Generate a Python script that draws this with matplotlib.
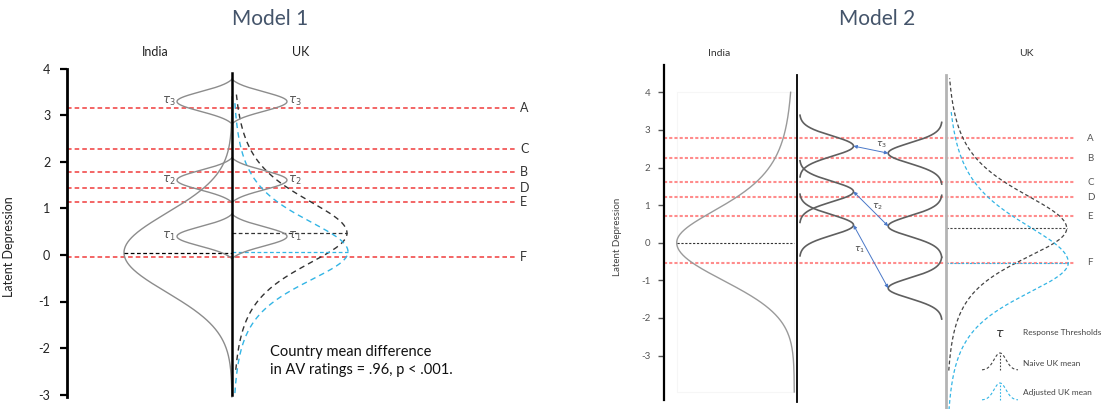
import numpy as np
import matplotlib
matplotlib.use('Agg')
import matplotlib.pyplot as plt

plt.rcParams['font.family'] = ['Lato', 'DejaVu Sans']
plt.rcParams['mathtext.fontset'] = 'dejavusans'

# ---------------- data ----------------
yticks = [-3, -2, -1, 0, 1, 2, 3, 4]
countries = ['India', 'UK']
titles = ['Model 1', 'Model 2']

# Model 1
m1_line_labels = ['A', 'C', 'B', 'D', 'E', 'F']
m1_line_levels = [3.17, 2.27, 1.78, 1.45, 1.13, -0.04]
m1_tau = [0.40, 1.61, 3.30]
m1_tau_labels = [r'$\tau_1$', r'$\tau_2$', r'$\tau_3$']
# (mean, scale_up, scale_low, df_up, df_low, v_min, v_max)
m1_india = [0.05, 0.85, 0.85, np.inf, np.inf, -3.05, 3.40]
m1_uk_naive = [0.47, 0.85, 0.80, 3, 3, -2.47, 3.48]
m1_uk_adj = [0.07, 0.80, 0.76, 3, 3, -2.97, 3.33]
m1_note = ['Country mean difference', 'in AV ratings = .96, p < .001.']

# Model 2
m2_line_labels = ['A', 'B', 'C', 'D', 'E', 'F']
m2_line_levels = [2.78, 2.25, 1.61, 1.21, 0.70, -0.53]
m2_tau_india = [0.47, 1.36, 2.57]
m2_tau_uk = [-1.21, 0.44, 2.38]
m2_tau_labels = [r'$\tau_1$', r'$\tau_2$', r'$\tau_3$']
m2_india = [0.0, 1.07, 1.00, 3, np.inf, -3.97, 4.00]
m2_uk_naive = [0.38, 1.08, 0.95, 3, 3, -3.40, 4.37]
m2_uk_adj = [-0.53, 1.20, 1.00, 3, 3, -4.60, 3.48]
legend_labels = ['Response Thresholds', 'Naive UK mean', 'Adjusted UK mean']

# ---------------- styles ----------------
RED1 = '#f03c3c'
RED2 = '#ff8c8c'
BLUE = '#33b5e5'
TITLE_C = '#44546a'
ARROW_C = '#4a78c8'


def bell(v, p):
    mu, s_up, s_lo, nu_up, nu_lo = p[:5]
    d = v - mu
    s = np.where(d >= 0, s_up, s_lo)
    nu = np.where(d >= 0, nu_up, nu_lo)
    z = d / s
    with np.errstate(invalid='ignore', over='ignore', divide='ignore'):
        t = (1 + z ** 2 / nu) ** (-(nu + 1) / 2)
    g = np.exp(-z ** 2 / 2)
    return np.where(np.isinf(nu), g, t)


def bump(v, tau, s, h):
    base = np.exp(-h ** 2 / (2 * s ** 2))
    return (np.exp(-(v - tau) ** 2 / (2 * s ** 2)) - base) / (1 - base)


W, H = 1110, 409
fig = plt.figure(figsize=(W / 100, H / 100), dpi=100)

# ============ Model 1 ============
ax1 = fig.add_axes([0, 0, 555 / W, 1])
y0_1, k1 = 255.0, 46.5
ax1.set_xlim(0, 555)
ax1.set_ylim((y0_1 - H) / k1, y0_1 / k1)
for s in ['top', 'right', 'bottom']:
    ax1.spines[s].set_visible(False)
ax1.spines['left'].set_position(('data', 67))
ax1.spines['left'].set_bounds(-3.05, 4.0)
ax1.spines['left'].set_linewidth(2.0)
ax1.set_xticks([])
ax1.set_yticks(yticks)
ax1.set_yticklabels([str(t) for t in yticks])
ax1.tick_params(axis='y', direction='out', length=5, width=1.6, pad=7,
                labelsize=9, labelcolor='#222222')
ax1.set_ylabel('Latent Depression', fontsize=9, color='#222222')
ax1.yaxis.set_label_coords(15 / 555, (H - 247) / H)

c1 = 232.0
ax1.plot([c1, c1], [(y0_1 - 395) / k1, (y0_1 - 73) / k1], color='black', lw=1.8, zorder=4)

# red lines
for lab, lev in zip(m1_line_labels, m1_line_levels):
    ax1.plot([67, 515], [lev, lev], color=RED1, lw=1.1, ls=(0, (3, 2)), zorder=2)
    ax1.text(520, lev, lab, ha='left', va='center', fontsize=9, color='#333333')

# India curve (left)
v = np.linspace(m1_india[5], m1_india[6], 400)
ax1.plot(c1 - 108 * bell(v, m1_india), v, color='#8c8c8c', lw=1.0, zorder=3)
ax1.plot([c1 - 108, c1], [m1_india[0]] * 2, color='black', lw=0.9, ls=(0, (3, 2)), zorder=3)

# UK curves (right)
v = np.linspace(m1_uk_naive[5], m1_uk_naive[6], 400)
ax1.plot(c1 + 115 * bell(v, m1_uk_naive), v, color='#333333', lw=1.0, ls=(0, (4, 3)), zorder=3)
ax1.plot([c1, c1 + 115], [m1_uk_naive[0]] * 2, color='#333333', lw=0.9, ls=(0, (3, 2)), zorder=3)
v = np.linspace(m1_uk_adj[5], m1_uk_adj[6], 400)
ax1.plot(c1 + 116 * bell(v, m1_uk_adj), v, color=BLUE, lw=1.0, ls=(0, (4, 3)), zorder=3)
ax1.plot([c1, c1 + 116], [m1_uk_adj[0]] * 2, color=BLUE, lw=0.9, ls=(0, (3, 2)), zorder=3)

# thresholds
for tau, lab in zip(m1_tau, m1_tau_labels):
    v = np.linspace(tau - 0.48, tau + 0.48, 200)
    g = bump(v, tau, 0.21, 0.48)
    ax1.plot(c1 - 55 * g, v, color='#8c8c8c', lw=1.0, zorder=3)
    ax1.plot(c1 + 55 * g, v, color='#8c8c8c', lw=1.0, zorder=3)
    ax1.text(c1 - 56, tau, lab, ha='right', va='center', fontsize=8.5, color='#555555')
    ax1.text(c1 + 56, tau, lab, ha='left', va='center', fontsize=8.5, color='#555555')

ax1.text(155, (y0_1 - 52) / k1, countries[0], ha='center', va='center', fontsize=9, color='#222222')
ax1.text(301, (y0_1 - 52) / k1, countries[1], ha='center', va='center', fontsize=9, color='#222222')
ax1.text(270, (y0_1 - 352) / k1, m1_note[0], ha='left', va='center', fontsize=10.5, color='#111111')
ax1.text(270, (y0_1 - 370) / k1, m1_note[1], ha='left', va='center', fontsize=10.5, color='#111111')
ax1.text(270, (y0_1 - 19) / k1, titles[0], ha='center', va='center', fontsize=15, color=TITLE_C)

# ============ Model 2 ============
ax2 = fig.add_axes([555 / W, 0, 555 / W, 1])
y0_2, k2 = 242.7, 37.6
ax2.set_xlim(555, 1110)
ax2.set_ylim((y0_2 - H) / k2, y0_2 / k2)
for s in ['top', 'right', 'bottom']:
    ax2.spines[s].set_visible(False)
ax2.spines['left'].set_position(('data', 664.3))
ax2.spines['left'].set_bounds((y0_2 - 400) / k2, (y0_2 - 65) / k2)
ax2.spines['left'].set_linewidth(1.6)
ax2.set_xticks([])
ax2.set_yticks(yticks)
ax2.set_yticklabels([str(t) for t in yticks])
ax2.tick_params(axis='y', direction='out', length=4, width=1.0, pad=6,
                labelsize=7, labelcolor='#555555', color='#555555')
ax2.set_ylabel('Latent Depression', fontsize=7, color='#444444')
ax2.yaxis.set_label_coords((621.7 - 555) / 555, (H - 237) / H)

vtop = (y0_2 - 75) / k2
vbot = (y0_2 - 402) / k2
ax2.plot([796.7, 796.7], [vbot, vtop], color='black', lw=1.3, zorder=4)
ax2.plot([945.7, 945.7], [(y0_2 - 409) / k2, vtop], color='#b4b4b4', lw=2.0, zorder=4)

# faint box behind India curve
ax2.plot([676.7, 794.3, 794.3, 676.7, 676.7], [4.0, 4.0, -3.97, -3.97, 4.0],
         color='#f6f6f6', lw=0.8, zorder=1)

# red lines
for lab, lev in zip(m2_line_labels, m2_line_levels):
    ax2.plot([664.3, 1075], [lev, lev], color=RED2, lw=1.5, ls=(0, (1.5, 1)), zorder=2)
    ax2.text(1087, lev, lab, ha='left', va='center', fontsize=7, color='#555555')

# India curve
v = np.linspace(m2_india[5], m2_india[6], 400)
ax2.plot(794.3 - 117.6 * bell(v, m2_india), v, color='#9a9a9a', lw=1.0, zorder=3)
ax2.plot([794.3 - 117.6, 794.3], [m2_india[0]] * 2, color='#333333', lw=0.8, ls=(0, (2, 1.5)), zorder=3)

# UK curves
v = np.linspace(m2_uk_naive[5], m2_uk_naive[6], 400)
ax2.plot(945.7 + 121 * bell(v, m2_uk_naive), v, color='#444444', lw=0.9, ls=(0, (3, 2)), zorder=3)
ax2.plot([945.7, 945.7 + 121], [m2_uk_naive[0]] * 2, color='#444444', lw=0.8, ls=(0, (2, 1.5)), zorder=3)
v = np.linspace(m2_uk_adj[5], m2_uk_adj[6], 400)
ax2.plot(945.7 + 122.6 * bell(v, m2_uk_adj), v, color=BLUE, lw=0.9, ls=(0, (3, 2)), zorder=3)
ax2.plot([945.7, 945.7 + 122.6], [m2_uk_adj[0]] * 2, color=BLUE, lw=0.8, ls=(0, (2, 1.5)), zorder=3)

# thresholds (bumps)
bw, bs, bh = 53.5, 0.27, 0.82
left_base, right_base = 800.0, 941.7
for tau in m2_tau_india:
    v = np.linspace(tau - bh, tau + bh, 200)
    ax2.plot(left_base + bw * bump(v, tau, bs, bh), v, color='#5f5f5f', lw=1.2, zorder=3)
for tau in m2_tau_uk:
    v = np.linspace(tau - bh, tau + bh, 200)
    ax2.plot(right_base - bw * bump(v, tau, bs, bh), v, color='#5f5f5f', lw=1.2, zorder=3)

label_off = [(-8, 5), (5, 1.5), (7.5, 3.5)]
for ti, tu, lab, off in zip(m2_tau_india, m2_tau_uk, m2_tau_labels, label_off):
    p1 = (left_base + bw, ti)
    p2 = (right_base - bw, tu)
    ax2.annotate('', xy=p2, xytext=p1,
                 arrowprops=dict(arrowstyle='<|-|>', color=ARROW_C, lw=0.7,
                                 mutation_scale=5, shrinkA=0, shrinkB=0), zorder=5)
    mid = ((p1[0] + p2[0]) / 2, (p1[1] + p2[1]) / 2)
    ax2.annotate(lab, xy=mid, xytext=off, textcoords='offset points',
                 ha='center', va='center', fontsize=6.5, color='#444444')

ax2.text(719, (y0_2 - 54) / k2, countries[0], ha='center', va='center', fontsize=7.5, color='#333333')
ax2.text(1026, (y0_2 - 54) / k2, countries[1], ha='center', va='center', fontsize=7.5, color='#333333')
ax2.text(877, (y0_2 - 19) / k2, titles[1], ha='center', va='center', fontsize=15, color=TITLE_C)

# legend
ax2.text(1000, (y0_2 - 333) / k2, r'$\tau$', ha='center', va='center', fontsize=9, color='#333333')
lx = np.linspace(-18, 18, 60)
for ypk, col in zip([353.0, 383.0], ['#444444', BLUE]):
    yb = ypk + 17
    prof = np.exp(-lx ** 2 / (2 * 6.0 ** 2))
    ax2.plot(1000 + lx, (y0_2 - (yb - 17 * prof)) / k2, color=col, lw=0.8, ls=(0, (2.5, 2)))
    ax2.plot([1000, 1000], [(y0_2 - yb) / k2, (y0_2 - ypk) / k2], color=col, lw=0.8, ls=(0, (1.5, 1.5)))
for lab, yp in zip(legend_labels, [333.0, 363.0, 392.0]):
    ax2.text(1023, (y0_2 - yp) / k2, lab, ha='left', va='center', fontsize=6, color='#444444')

fig.savefig('out.png', dpi=100)
